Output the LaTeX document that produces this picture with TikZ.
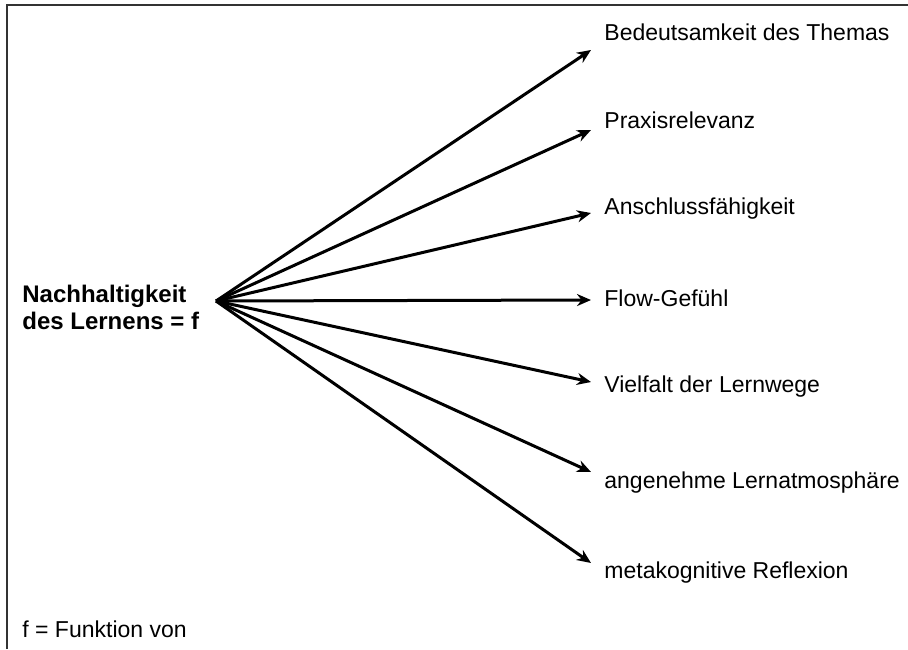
\documentclass[tikz,border=0pt]{standalone}
\usepackage{fontspec}
\setmainfont{Liberation Sans}
\usepackage{tikz}
\usetikzlibrary{arrows.meta}
\usetikzlibrary{positioning}

\begin{document}
\begin{tikzpicture}[x=0.5pt,y=-0.5pt,
        lbl/.style={anchor=west,inner sep=0pt,font=\fontsize{11.5}{13.5}\selectfont},
        arr/.style={draw=black,line width=1.5pt,-{Stealth[length=7pt,width=6pt]}}]
        \useasboundingbox (0,0) rectangle (908,649);
        % frame
        \draw[line width=1pt,black!80] (7,649) -- (7,4.5) -- (908,4.5);
        \node[lbl,align=left,font=\fontsize{12}{13.5}\selectfont\bfseries] (nl) at (22,307) {Nachhaltigkeit\\des Lernens = f};
        \coordinate (apex) at (216,301);
        \node[lbl] (fn) at (22,629) {f = Funktion von};
        \foreach \i/\tipy/\texty/\txt in {1/50/32/Bedeutsamkeit des Themas,
                2/130/120/Praxisrelevanz,
                3/213/209/Anschlussfähigkeit,
                4/300/298/Flow-Gefühl,
                5/382/387/Vielfalt der Lernwege,
                6/472/483/angenehme Lernatmosphäre,
                7/563/573/metakognitive Reflexion} {
            \coordinate (p\i) at (591,\tipy);
            \node[lbl] (t\i) at (604,\texty) {\txt};
            \draw[arr] (apex) -- (p\i);
        }
\end{tikzpicture}
\end{document}
